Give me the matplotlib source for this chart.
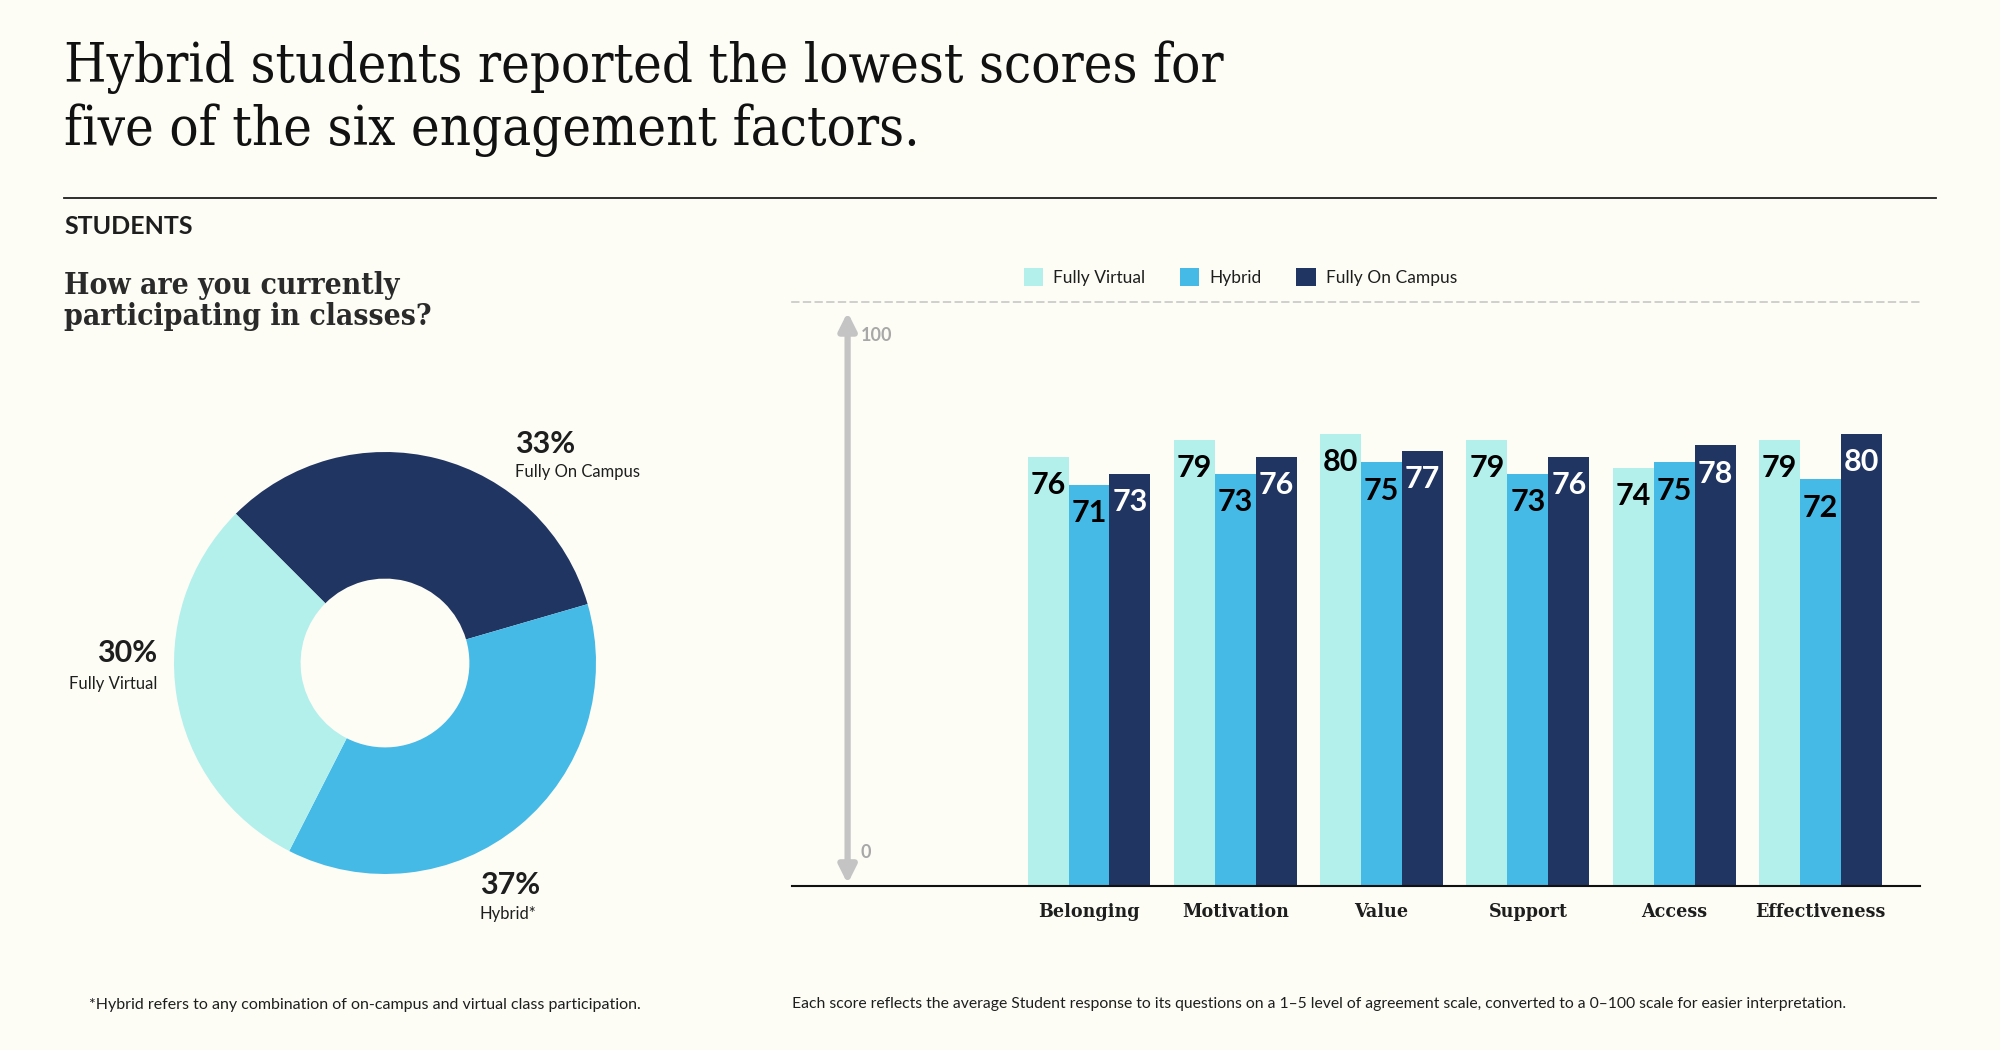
import matplotlib
matplotlib.use("Agg")
import matplotlib.pyplot as plt
from matplotlib.patches import Patch

# ---- data ----
factors = ["Belonging", "Motivation", "Value", "Support", "Access", "Effectiveness"]
series_names = ["Fully Virtual", "Hybrid", "Fully On Campus"]
fully_virtual = [76, 79, 80, 79, 74, 79]
hybrid = [71, 73, 75, 73, 75, 72]
fully_on_campus = [73, 76, 77, 76, 78, 80]

share_labels = ["Fully On Campus", "Hybrid*", "Fully Virtual"]
share_values = [33, 37, 30]

colors = {"Fully Virtual": "#b3f0ec", "Hybrid": "#46bae7", "Fully On Campus": "#213562"}
BG = "#fdfdf6"
INK = "#1e1e1e"

SERIF = "DejaVu Serif"
SANS = "Lato"

W, H = 2000, 1050
fig = plt.figure(figsize=(W / 100, H / 100), dpi=100, facecolor=BG)


def px(x, y):
    return x / W, 1 - y / H


# ---- header ----
fig.text(*px(64, 40), "Hybrid students reported the lowest scores for\nfive of the six engagement factors.",
         family=SERIF, fontstretch="condensed", fontsize=39, color="#111111", va="top", ha="left",
         linespacing=1.24)
fig.add_artist(plt.Line2D([64 / W, 1936 / W], [1 - 198 / H] * 2, color=INK, lw=1.3))
fig.text(*px(64, 227), "STUDENTS", family=SANS, weight="bold", fontsize=18, color=INK, va="center")
fig.text(*px(64, 271), "How are you currently\nparticipating in classes?", family=SERIF,
         fontstretch="condensed", weight="bold", fontsize=21.5, color="#2a2a2a", va="top",
         linespacing=1.1)

# ---- donut ----
cx, cy, r = 385, 663, 211
ax_d = fig.add_axes([(cx - r) / W, (H - cy - r) / H, 2 * r / W, 2 * r / H])
ax_d.set_facecolor("none")
ax_d.pie(share_values, startangle=135, counterclock=False, radius=1,
         colors=[colors["Fully On Campus"], colors["Hybrid"], colors["Fully Virtual"]],
         wedgeprops=dict(width=0.6, linewidth=0))
ax_d.set_xlim(-1, 1)
ax_d.set_ylim(-1, 1)
ax_d.axis("off")

label_pos = {
    "Fully On Campus": (0.616, 1.04, 0.905, "left"),
    "Hybrid*": (0.45, -1.05, -1.19, "left"),
    "Fully Virtual": (-1.08, 0.047, -0.10, "right"),
}
for name, val in zip(share_labels, share_values):
    x, y1, y2, ha = label_pos[name]
    ax_d.text(x, y1, f"{val}%", family=SANS, weight="bold", fontsize=22, color=INK,
              ha=ha, va="center", clip_on=False)
    ax_d.text(x, y2, name, family=SANS, fontsize=12, color=INK, ha=ha, va="center",
              clip_on=False)

# ---- bars ----
ax = fig.add_axes([792 / W, (H - 886) / H, 1128 / W, (886 - 302) / H])
ax.set_facecolor("none")
bw = 0.28
xs = list(range(len(factors)))
series = [fully_virtual, hybrid, fully_on_campus]
label_colors = ["#000000", "#000000", "#ffffff"]
for i, (name, vals) in enumerate(zip(series_names, series)):
    pos = [x + (i - 1) * bw for x in xs]
    ax.bar(pos, vals, width=bw, color=colors[name], linewidth=0)
    for p, v in zip(pos, vals):
        ax.text(p, v - 5, str(v), ha="center", va="center", family=SANS, weight="bold",
                fontsize=22, color=label_colors[i])

ax.set_xlim(-2.03, 5.68)
ax.set_ylim(0, 103.4)
ax.set_yticks([])
ax.set_xticks(xs)
ax.set_xticklabels(factors, family=SERIF, fontstretch="condensed", weight="bold",
                   fontsize=14, color=INK)
ax.tick_params(axis="x", length=0, pad=12)
for s in ["left", "right"]:
    ax.spines[s].set_visible(False)
ax.spines["bottom"].set_color("#111111")
ax.spines["bottom"].set_linewidth(1.5)
ax.spines["top"].set_color("#c8c8c8")
ax.spines["top"].set_linestyle((0, (4, 3)))
ax.spines["top"].set_linewidth(1.2)

ax.annotate("", xy=(-1.65, 101.6), xytext=(-1.65, 0.4),
            arrowprops=dict(arrowstyle="<|-|>", color="#c4c4c4", lw=4.5, mutation_scale=26,
                            shrinkA=0, shrinkB=0))
ax.text(-1.56, 97.5, "100", family=SANS, weight="bold", fontsize=13, color="#a8a8a8",
        ha="left", va="center")
ax.text(-1.56, 6, "0", family=SANS, weight="bold", fontsize=13, color="#a8a8a8",
        ha="left", va="center")

handles = [Patch(facecolor=colors[n], edgecolor="none") for n in series_names]
leg = fig.legend(handles, series_names, loc="center left", bbox_to_anchor=px(1008, 277),
                 ncol=3, frameon=False, handlelength=1.1, handleheight=1.2, handletextpad=0.6,
                 columnspacing=2.0, prop=dict(family=SANS, size=12.5))
for t in leg.get_texts():
    t.set_color(INK)

# ---- footnotes ----
fig.text(*px(89, 1005), "*Hybrid refers to any combination of on-campus and virtual class participation.",
         family=SANS, fontsize=11.5, color=INK, va="center")
fig.text(*px(792, 1004),
         "Each score reflects the average Student response to its questions on a 1\u20135 level of "
         "agreement scale, converted to a 0\u2013100 scale for easier interpretation.",
         family=SANS, fontsize=11.3, color=INK, va="center")

fig.savefig("out.png", dpi=100, facecolor=BG)
